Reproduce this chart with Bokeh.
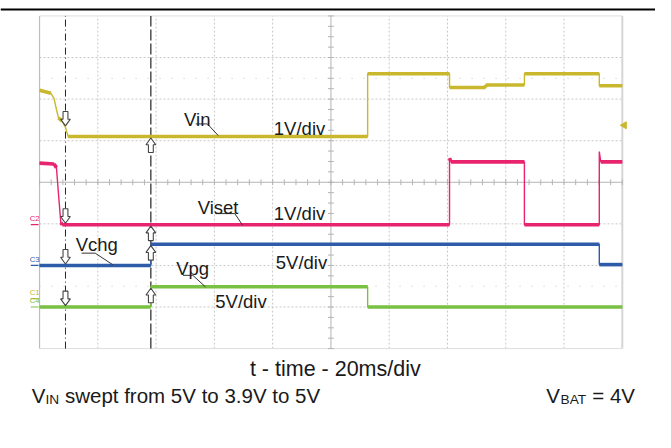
import numpy as np
from bokeh.plotting import figure
from bokeh.models import Range1d, Label, Span
from bokeh.embed import file_html
from bokeh.resources import INLINE

# ---------------- data (read from the scope capture) ----------------
ms_per_div = 20
n_xdiv = 10
n_ydiv = 8

cursor_t = [8.9, 38.2]          # ms, cursor 1 (dash-dot) and cursor 2 (dashed)

# Vin, 1 V/div
vin_t = [0, 3.9, 5.0, 5.8, 6.5, 7.8, 8.9, 9.8, 112.6, 112.6, 140.7, 140.7,
         153.1, 153.1, 166.4, 166.4, 192.1, 192.1, 200]
vin_v = [5.01, 4.94, 4.81, 4.55, 4.35, 4.27, 4.12, 3.9, 3.9, 5.41, 5.41, 5.08,
         5.08, 5.14, 5.14, 5.41, 5.41, 5.12, 5.12]
vin_trigger = 4.17

# Viset, 1 V/div
viset_t = [0, 5.0, 5.8, 6.5, 7.3, 7.8, 140.7, 140.7, 141.2, 166.4, 166.4,
           192.1, 192.1, 192.6, 200]
viset_v = [1.48, 1.46, 1.37, 0.74, 0.05, 0, 0, 1.6, 1.51, 1.51, 0, 0, 1.76,
           1.51, 1.51]

# Vchg, 5 V/div
vchg_t = [0, 38.2, 38.2, 192.1, 192.1, 200]
vchg_v = [0, 0, 2.55, 2.55, 0.1, 0.1]

# Vpg, 5 V/div
vpg_t = [0, 38.2, 38.2, 112.6, 112.6, 200]
vpg_v = [0, 0, 2.43, 2.43, 0, 0]

ch_names = ["Vin", "Viset", "Vchg", "Vpg"]
ch_tags = ["C1", "C2", "C3", "C4"]
ch_scale = [1, 1, 5, 5]                 # V/div
ch_pos = [-2.8, -1.02, -2.0, -3.0]      # ground position, div
ch_colors = ["#C9B82E", "#E8246F", "#2E5CA8", "#79C143"]
ch_scale_txt = ["1V/div", "1V/div", "5V/div", "5V/div"]
ch_t = [vin_t, viset_t, vchg_t, vpg_t]
ch_v = [vin_v, viset_v, vchg_v, vpg_v]

title = "t - time - 20ms/div"

# ---------------- page geometry helpers (annotations only) ----------------
REF_W, REF_H = 671, 448
FL, FR, FT, FB = 40.0, 637.0, 16.0, 361.0
PXMS = (FR - FL) / (n_xdiv * ms_per_div)
PXDIV = (FB - FT) / n_ydiv
CY = (FT + FB) / 2


def X(px):
    return (px - FL) / PXMS


def Y(py):
    return (CY - py) / PXDIV


W, H = 655, 432
FS = W / REF_W


def fs(px):
    return f"{px * FS:.1f}px"


p = figure(width=W, height=H, output_backend="svg", toolbar_location=None,
           x_axis_type=None, y_axis_type=None,
           x_range=Range1d(X(0), X(REF_W)), y_range=Range1d(Y(REF_H), Y(0)),
           min_border=0, outline_line_color=None, background_fill_color="white",
           border_fill_color="white")

tmax = n_xdiv * ms_per_div
half = n_ydiv / 2

# ---------------- graticule ----------------
gx = [i * ms_per_div for i in range(1, n_xdiv) if i != n_xdiv // 2]
p.segment(x0=gx, y0=-half, x1=gx, y1=half, line_color="#c8c8c8",
          line_width=1, line_dash="2 2")
gy = [j for j in range(-3, 4) if j != 0]
p.segment(x0=0, y0=gy, x1=tmax, y1=gy, line_color="#c8c8c8",
          line_width=1, line_dash="2 2")
# sparse dotted guides
p.segment(x0=0, y0=[2.5, -2.5], x1=tmax, y1=[2.5, -2.5], line_color="#c0c0c0",
          line_width=1, line_dash="1 11")
# border
p.segment(x0=[0, 0], y0=[-half, half], x1=[tmax, tmax], y1=[-half, half],
          line_color="#dddddd", line_width=1)
p.segment(x0=[0], y0=[-half], x1=[0], y1=[half], line_color="#bdbdbd", line_width=1.2)
p.segment(x0=[tmax], y0=[-half], x1=[tmax], y1=[half], line_color="#d6d6d6", line_width=2)
# centre lines with minor ticks
p.segment(x0=[tmax / 2], y0=[-half], x1=[tmax / 2], y1=[half], line_color="#b4b4b4", line_width=1)
p.segment(x0=[0], y0=[0], x1=[tmax], y1=[0], line_color="#b4b4b4", line_width=1)
tx = np.arange(0, tmax + 0.01, ms_per_div / 5)
p.segment(x0=tx, y0=-3 / PXDIV, x1=tx, y1=3 / PXDIV, line_color="#b4b4b4", line_width=1)
ty = np.arange(-half, half + 0.01, 0.25)
p.segment(x0=tmax / 2 - 3 / PXMS, y0=ty, x1=tmax / 2 + 3 / PXMS, y1=ty,
          line_color="#b4b4b4", line_width=1)

# top rule of the page
p.add_layout(Span(location=Y(9.3), dimension="width", line_color="black", line_width=2))

# ---------------- cursors ----------------
p.segment(x0=[cursor_t[0]], y0=[-half], x1=[cursor_t[0]], y1=[half],
          line_color="#222222", line_width=1, line_dash="7 3 1 3")
p.segment(x0=[cursor_t[1]], y0=[-half], x1=[cursor_t[1]], y1=[half],
          line_color="#222222", line_width=1.2, line_dash="11 3")

# ---------------- traces ----------------
for t, v, sc, pos, col in zip(ch_t, ch_v, ch_scale, ch_pos, ch_colors):
    t = np.asarray(t, float)
    y = np.asarray(v, float) / sc + pos
    p.line(t, y, line_color=col, line_width=1.4)
    flat = np.abs(np.diff(y)) < 0.1
    p.segment(x0=t[:-1][flat], y0=y[:-1][flat], x1=t[1:][flat], y1=y[1:][flat],
              line_color=col, line_width=3.6, line_cap="butt")

# trigger marker
p.scatter([tmax + 2 / PXMS], [vin_trigger / ch_scale[0] + ch_pos[0]], marker="triangle",
          angle=np.pi / 2, size=7, fill_color=ch_colors[0], line_color=ch_colors[0])

# channel ground tags
for tag, pos, col in zip(ch_tags, ch_pos, ch_colors):
    p.segment(x0=[X(31)], y0=[pos], x1=[X(39)], y1=[pos], line_color=col, line_width=1.2)
    p.add_layout(Label(x=X(35), y=pos + 2 / PXDIV, text=tag, text_font="Liberation Sans",
                       text_font_size=fs(8), text_color=col, text_align="center",
                       text_baseline="bottom"))

# ---------------- cursor arrows ----------------
def arrow(tc, yd, down):
    dx = np.array([0, 5, 2.5, 2.5, -2.5, -2.5, -5])
    dy = np.array([0, 7, 7, 15, 15, 7, 7], float)
    if not down:
        dy = -dy
    return list(tc + dx / PXMS), list(yd + dy / PXDIV)


axs, ays = [], []
for t, v, sc, pos in zip(ch_t, ch_v, ch_scale, ch_pos):
    y1 = np.interp(cursor_t[0], t, v) / sc + pos
    y2 = np.interp(cursor_t[1] + 0.3, t, v) / sc + pos
    a, b = arrow(cursor_t[0], y1 + 1.5 / PXDIV, True)
    axs.append(a); ays.append(b)
    a, b = arrow(cursor_t[1], y2 - 1.5 / PXDIV, False)
    axs.append(a); ays.append(b)
p.patches(axs, ays, fill_color="white", line_color="#444444", line_width=1.1)

# ---------------- trace labels ----------------
FONT = "Liberation Sans"
name_pos = [(188, 123), (202, 215), (77, 253), (180, 278)]
scale_pos = [(280, 133), (280, 221), (282, 272), (220, 312)]
leaders = [[(200, 128), (212, 128), (223, 140)],
           [(220, 221), (240, 221), (248, 233)],
           [(83, 262), (97, 262), (115, 274)],
           [(187, 285), (197, 285), (210, 297)]]
for nm, st, (nx, ny), (sx, sy), ld in zip(ch_names, ch_scale_txt, name_pos, scale_pos, leaders):
    p.add_layout(Label(x=X(nx), y=Y(ny), text=nm, text_font=FONT, text_font_size=fs(19),
                       text_color="#1a1a1a", text_baseline="alphabetic"))
    p.add_layout(Label(x=X(sx), y=Y(sy), text=st, text_font=FONT, text_font_size=fs(19),
                       text_color="#1a1a1a", text_baseline="alphabetic"))
    p.line([X(a) for a, _ in ld], [Y(b) for _, b in ld], line_color="#333333", line_width=1)

# ---------------- captions ----------------
p.add_layout(Label(x=X(343), y=Y(382), text=title, text_font=FONT, text_font_size=fs(22),
                   text_color="#1a1a1a", text_align="center", text_baseline="alphabetic"))
base = 410
p.add_layout(Label(x=X(32), y=Y(base), text="V", text_font=FONT, text_font_size=fs(21),
                   text_color="#1a1a1a", text_baseline="alphabetic"))
p.add_layout(Label(x=X(46), y=Y(base + 4), text="IN", text_font=FONT, text_font_size=fs(14),
                   text_color="#1a1a1a", text_baseline="alphabetic"))
p.add_layout(Label(x=X(66), y=Y(base), text="swept from 5V to 3.9V to 5V", text_font=FONT,
                   text_font_size=fs(21), text_color="#1a1a1a", text_baseline="alphabetic"))
p.add_layout(Label(x=X(650), y=Y(base), text="= 4V", text_font=FONT, text_font_size=fs(21),
                   text_color="#1a1a1a", text_align="right", text_baseline="alphabetic"))
p.add_layout(Label(x=X(600), y=Y(base + 4), text="BAT", text_font=FONT, text_font_size=fs(14),
                   text_color="#1a1a1a", text_align="right", text_baseline="alphabetic"))
p.add_layout(Label(x=X(573), y=Y(base), text="V", text_font=FONT, text_font_size=fs(21),
                   text_color="#1a1a1a", text_align="right", text_baseline="alphabetic"))

open("out.html", "w").write(file_html(p, INLINE))
